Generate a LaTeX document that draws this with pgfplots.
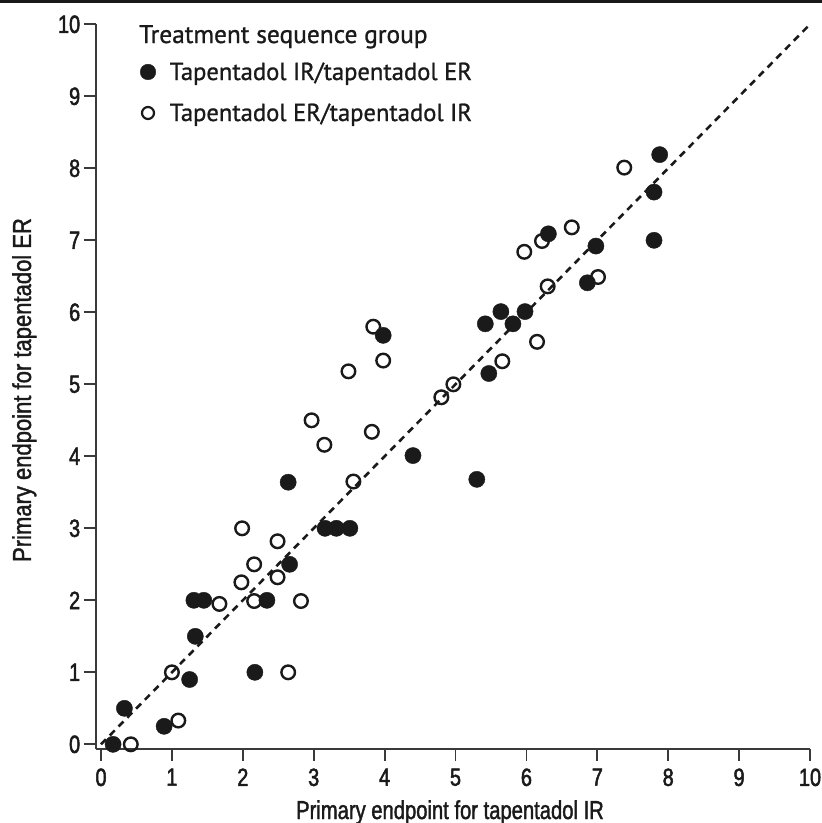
\documentclass[border=0pt]{standalone}
\usepackage{fontspec}
\setmainfont{Liberation Sans}
\newfontfamily\tickfont[FakeStretch=0.8, FakeBold=2]{Liberation Sans}
\newfontfamily\xlabfont[FakeStretch=0.78, FakeBold=1.5]{Liberation Sans}
\newfontfamily\ylabfont[FakeStretch=0.85, FakeBold=1.5]{Liberation Sans}
\newfontfamily\legfont[FakeBold=1]{PT Sans}
\usepackage{pgfplots}
\pgfplotsset{compat=1.18}
\definecolor{axgray}{HTML}{3A3A3A}
\definecolor{ink}{HTML}{1A1A1A}

\pgfplotstableread{
x y
0.17 0.00
0.33 0.50
0.89 0.25
1.25 0.90
1.33 1.50
1.31 2.00
1.45 2.00
2.17 1.00
2.34 2.00
2.66 2.50
2.64 3.64
3.16 3.00
3.32 3.00
3.51 3.00
3.98 5.68
4.40 4.01
5.30 3.68
5.42 5.84
5.47 5.15
5.64 6.01
5.81 5.84
5.98 6.01
6.31 7.09
6.86 6.41
6.98 6.92
7.80 7.00
7.80 7.67
7.88 8.19
}\filledtab

\pgfplotstableread{
x y
0.42 0.00
1.09 0.33
1.00 1.00
1.67 1.95
1.99 3.00
2.16 2.50
1.98 2.25
2.16 1.99
2.49 2.82
2.49 2.32
2.82 1.99
2.64 1.00
3.56 3.65
2.97 4.50
3.15 4.16
3.82 4.34
3.49 5.18
3.84 5.80
3.98 5.33
4.80 4.82
4.97 5.00
5.66 5.32
6.15 5.59
5.97 6.84
6.22 6.99
6.30 6.36
6.64 7.18
7.01 6.49
7.38 8.01
}\opentab

\begin{document}
\begin{tikzpicture}
\begin{axis}[
  at={(0,0)}, anchor=south west,
  scale only axis, width=714.3bp, height=724.7bp,
  xmin=-0.075, xmax=10, ymin=-0.065, ymax=10,
  axis lines*=left,
  clip=false,
  xtick={0,1,...,10}, ytick={0,1,...,10},
  tick align=outside, major tick length=12bp,
  tick style={axgray, line width=1.8bp},
  axis line style={axgray, line width=1.8bp},
  /pgf/number format/assume math mode=true,
  ticklabel style={font=\tickfont\fontsize{25}{25}\selectfont, text=ink},
  xticklabel style={yshift=-4bp},
  xlabel={Primary endpoint for tapentadol IR},
  ylabel={Primary endpoint for tapentadol ER},
  xlabel style={at={(axis description cs:0.496,-0.0966)}, anchor=base, font=\xlabfont\fontsize{26}{26}\selectfont, text=ink},
  ylabel style={at={(axis description cs:-0.0906,0.4954)}, anchor=base, font=\ylabfont\fontsize{26}{26}\selectfont, text=ink},
  legend style={at={(axis cs:0.55,9.5)}, anchor=north west, draw=none, fill=none,
    font=\legfont\fontsize{24.7}{28}\selectfont, text=ink, inner sep=0pt, row sep=18bp, column sep=12bp},
  legend cell align=left,
]
\addplot[ink, line width=2.6bp, dash pattern=on 7bp off 5.5bp, forget plot] coordinates {(0,0) (10,10)};
\addplot[only marks, mark=o, mark size=6.8bp, mark options={line width=2.4bp, draw=ink}, forget plot] table[x=x,y=y] {\opentab};
\addplot[only marks, mark=*, mark size=8.1bp, mark options={line width=0.4bp, draw=ink, fill=ink}, forget plot] table[x=x,y=y] {\filledtab};
\addlegendimage{only marks, mark=*, mark size=7.8bp, mark options={line width=0.4bp, draw=ink, fill=ink}}
\addlegendentry{Tapentadol IR/tapentadol ER}
\addlegendimage{only marks, mark=o, mark size=6bp, mark options={line width=2.2bp, draw=ink}}
\addlegendentry{Tapentadol ER/tapentadol IR}
\node[anchor=base west, inner sep=0pt, font=\legfont\fontsize{25.5}{28}\selectfont, text=ink] at (axis cs:0.536,9.74) {Treatment sequence group};
\end{axis}
\pgfresetboundingbox
\path[use as bounding box] (-95.7bp,-74bp) rectangle (726.3bp,749bp);
\fill[ink] (-95.7bp,746.3bp) rectangle (726.3bp,749bp);
\end{tikzpicture}
\end{document}
